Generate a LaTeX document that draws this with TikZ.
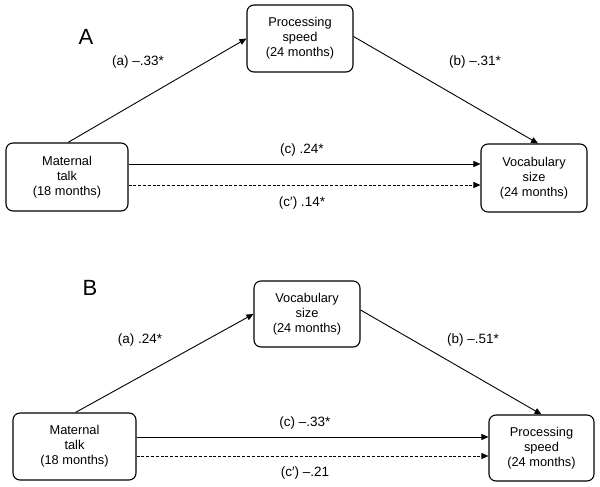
\documentclass[tikz,border=0pt]{standalone}
\usepackage{fontspec}
\setmainfont{Liberation Sans}
\usetikzlibrary{arrows.meta}
\begin{document}
\begin{tikzpicture}[x=1pt,y=-1pt,
  box/.style={draw, line width=1.1pt, rounded corners=7pt, align=center, font=\fontsize{12.8}{15}\selectfont, inner sep=0pt},
  arr/.style={line width=0.9pt, -{Triangle[length=7pt,width=6pt]}},
  dsh/.style={arr, line width=0.8pt, dash pattern=on 3pt off 1.8pt},
  lbl/.style={font=\fontsize{13.5}{15}\selectfont, inner sep=0pt},
  panel/.style={font=\fontsize{22}{24}\selectfont, inner sep=0pt}]
\useasboundingbox (0,0) rectangle (600,487);
% Panel A
\node[panel] (labA) at (86,37) {A};
\node[box, minimum width=106pt, minimum height=67pt] (psA) at (300,38.5) {Processing\\speed\\(24 months)};
\node[box, minimum width=122pt, minimum height=68pt] (matA) at (67,177) {Maternal\\talk\\(18 months)};
\node[box, minimum width=106pt, minimum height=68pt] (vocA) at (534,178) {Vocabulary\\size\\(24 months)};
\draw[arr] ([xshift=1pt]matA.north) -- (psA.west);
\draw[arr] ([yshift=2pt]psA.east) -- ([xshift=4pt]vocA.north);
\draw[arr] ([yshift=13pt]matA.east) -- ([yshift=13pt]matA.east -| vocA.west);
\draw[dsh] ([yshift=-8pt]matA.east) -- ([yshift=-8pt]matA.east -| vocA.west);
\node[lbl] (aA) at (138,62) {(a) –.33*};
\node[lbl] (bA) at (475,62) {(b) –.31*};
\node[lbl] (cA) at (302,150) {(c) .24*};
\node[lbl] (cpA) at (302,203) {(c′) .14*};
% Panel B
\node[panel] (labB) at (90,288) {B};
\node[box, minimum width=106pt, minimum height=66pt] (vocB) at (307,314) {Vocabulary\\size\\(24 months)};
\node[box, minimum width=123pt, minimum height=67pt] (matB) at (74.5,446.5) {Maternal\\talk\\(18 months)};
\node[box, minimum width=105pt, minimum height=66pt] (psB) at (541.5,448) {Processing\\speed\\(24 months)};
\draw[arr] ([xshift=1pt]matB.north) -- (vocB.west);
\draw[arr] ([yshift=4pt]vocB.east) -- (psB.north);
\draw[arr] ([yshift=9.5pt]matB.east) -- ([yshift=9.5pt]matB.east -| psB.west);
\draw[dsh] ([yshift=-9.5pt]matB.east) -- ([yshift=-9.5pt]matB.east -| psB.west);
\node[lbl] (aB) at (140,340) {(a) .24*};
\node[lbl] (bB) at (473,340) {(b) –.51*};
\node[lbl] (cB) at (305,423) {(c) –.33*};
\node[lbl] (cpB) at (305,473) {(c′) –.21};
\end{tikzpicture}
\end{document}
